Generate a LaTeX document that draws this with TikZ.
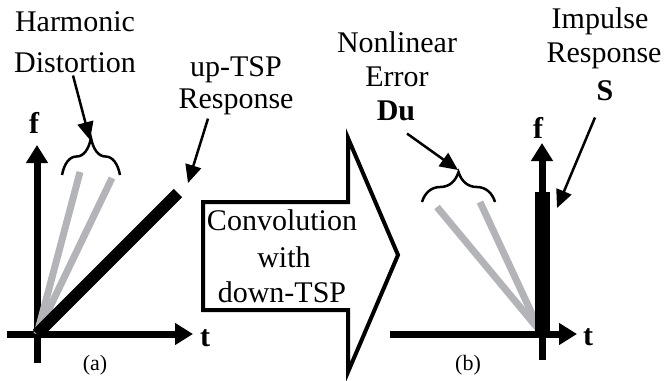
\documentclass[tikz,border=0pt]{standalone}
\usepackage{fontspec}
\setmainfont{Liberation Serif}
\usetikzlibrary{arrows.meta,decorations.pathreplacing}

\definecolor{harmgray}{RGB}{178,180,184}

\tikzset{
  lbl/.style={inner sep=0pt, anchor=base, font=\fontsize{30}{34}\selectfont},
  axlbl/.style={inner sep=0pt, anchor=base, font=\fontsize{30}{34}\selectfont\bfseries},
  sublbl/.style={inner sep=0pt, anchor=base, font=\fontsize{22}{26}\selectfont},
  axisline/.style={line width=7pt, -{Triangle[length=18pt,width=21pt]}},
  pointer/.style={line width=2.5pt, -{Triangle[length=18pt,width=16pt]}},
  harm/.style={line width=7pt, harmgray},
  sweep/.style={line width=12pt},
  curly/.style={line width=2.5pt, decorate, decoration={brace, amplitude=#1, aspect=0.5}}
}

\begin{document}
\begin{tikzpicture}[x=1pt, y=-1pt]
\useasboundingbox (0,0) rectangle (669,380);

% (a) up-TSP response
\draw[axisline] (7,334) -- (193,334);
\draw[axisline] (37,363) -- (37,145);
\coordinate (oA) at (37,334);
\draw[harm] (oA) -- (80,172);
\draw[harm] (oA) -- (112,178);
\draw[sweep] (oA) -- (178,193);
\coordinate (upend) at (188,183);
\node[axlbl] (fA) at (34,133) {f};
\node[axlbl] (tA) at (205,346) {t};
\node[sublbl] (capA) at (95,370) {(a)};

\draw[curly=37pt] (62,175) -- (120,175);
\coordinate (bAtip) at (90,140);

\node[lbl] (harm1) at (75,31) {Harmonic};
\node[lbl] (harm2) at (75,72) {Distortion};
\draw[pointer] ([shift={(-2,3)}]harm2.south) -- (bAtip);

\node[lbl] (up1) at (236,76) {up-TSP};
\node[lbl] (up2) at (236,108) {Response};
\draw[pointer] ([shift={(-28,4)}]up2.south) -- (upend);

% big arrow
\draw[line width=4pt, line join=miter] (203,202) -- (348,202) -- (348,138) -- (398,255)
  -- (348,372) -- (348,310) -- (203,310) -- cycle;
\node[lbl] (conv1) at (282,230) {Convolution};
\node[lbl] (conv2) at (284,267) {with};
\node[lbl] (conv3) at (282,302) {down-TSP};

% (b) impulse response
\draw[axisline] (390,334) -- (577,334);
\draw[axisline] (542,360) -- (542,143);
\coordinate (oB) at (540,331);
\draw[harm] (oB) -- (437,207);
\draw[harm] (oB) -- (480,202);
\draw[line width=15pt] (542,334) -- (542,192);
\coordinate (send) at (557,208);
\node[axlbl] (fB) at (538,138) {f};
\node[axlbl] (tB) at (588,345) {t};
\node[sublbl] (capB) at (468,370) {(b)};

\draw[curly=30pt] (422,202) -- (495,202);
\coordinate (bBtip) at (458,170);

\node[lbl] (nl1) at (397,52) {Nonlinear};
\node[lbl] (nl2) at (397,86) {Error};
\node[axlbl] (du) at (396,120) {Du};
\draw[pointer] ([shift={(11,13)}]du.south) -- (bBtip);

\node[lbl] (imp1) at (600,28) {Impulse};
\node[lbl] (imp2) at (604,62) {Response};
\node[axlbl] (S) at (605,100) {S};
\draw[pointer] ([shift={(-10,17)}]S.south) -- (send);
\end{tikzpicture}
\end{document}
